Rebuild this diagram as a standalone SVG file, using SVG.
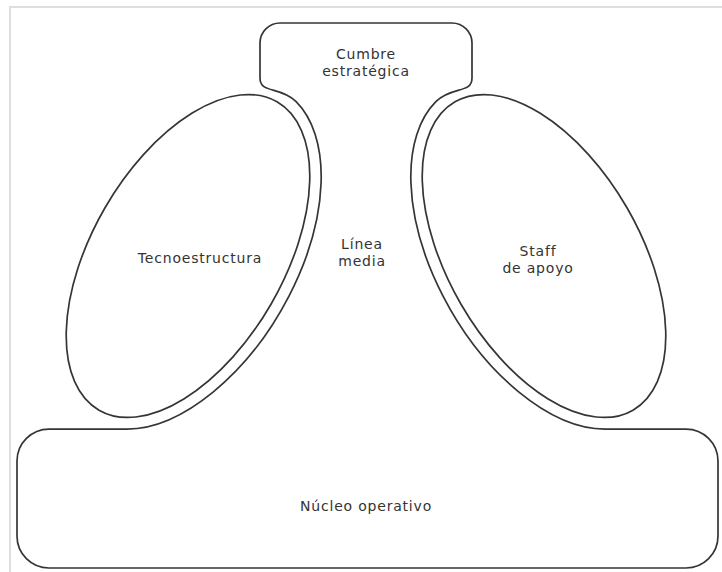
<svg xmlns="http://www.w3.org/2000/svg" width="722" height="572" viewBox="0 0 722 572">
<style>
.ln{fill:none;stroke:#353535;stroke-width:1.7;stroke-linejoin:round}
.frame{fill:none;stroke:#dedede;stroke-width:2}
.t{font-family:"DejaVu Sans","Liberation Sans",sans-serif;font-size:14px;letter-spacing:0.8px;fill:#333;text-anchor:middle}
</style>
<rect x="0" y="0" width="722" height="572" fill="#fff"/>
<path class="frame" d="M10,572 V7 H722"/>
<g id="outline">
<path class="ln" d="M280,23 H452 A20,20 0 0 1 472,43 V78 C472,94 451.8,85.8 436.1,101.4 A190,108 60 0 0 605.2,429.1 H686 A32,32 0 0 1 718,461 V536 A32,32 0 0 1 686,568 H49 A32,32 0 0 1 17,536 V461 A32,32 0 0 1 49,429.1 H126.8 A190,108 -60 0 0 295.9,101.4 C280.2,85.8 260,94 260,78 V43 A20,20 0 0 1 280,23 Z"/>
</g>
<g id="cumbre">
<text class="t" x="366" y="59">Cumbre</text>
<text class="t" x="366" y="75.5">estratégica</text>
</g>
<g id="tecnoestructura">
<ellipse class="ln" cx="188" cy="256" rx="178" ry="96" transform="rotate(-60 188 256)"/>
<text class="t" x="200" y="263">Tecnoestructura</text>
</g>
<g id="linea-media">
<text class="t" x="362" y="249">Línea</text>
<text class="t" x="362" y="265.5">media</text>
</g>
<g id="staff">
<ellipse class="ln" cx="544" cy="256" rx="178" ry="96" transform="rotate(60 544 256)"/>
<text class="t" x="538" y="256">Staff</text>
<text class="t" x="538" y="272.5">de apoyo</text>
</g>
<g id="nucleo">
<text class="t" x="366" y="511">Núcleo operativo</text>
</g>
<g id="connectors"/>
</svg>
